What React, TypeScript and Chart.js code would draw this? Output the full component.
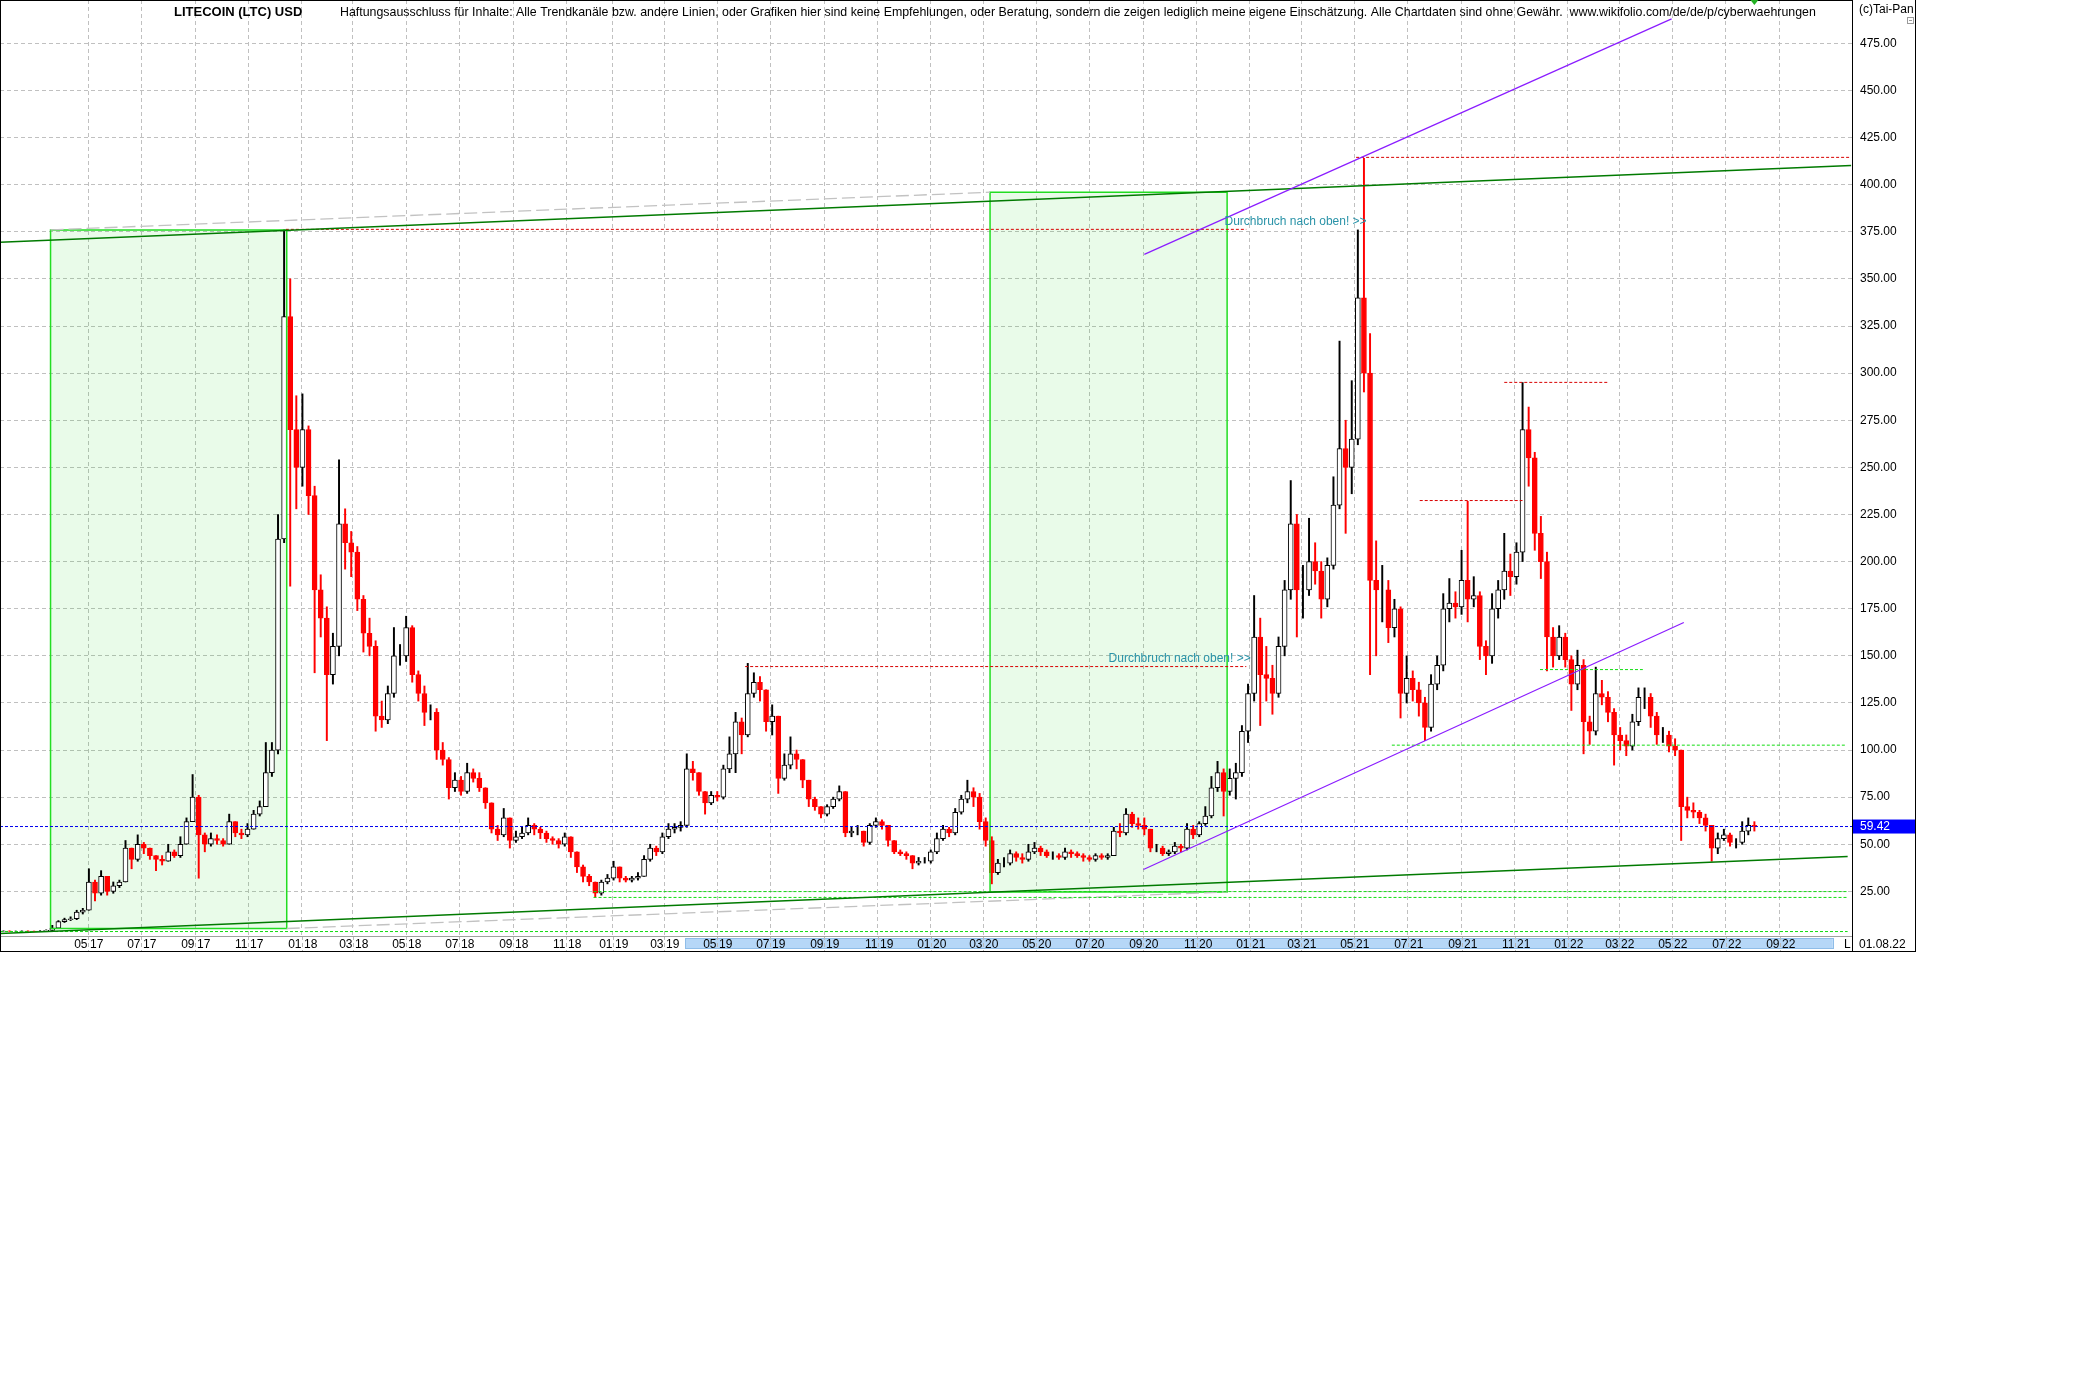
import React, { useEffect, useRef } from 'react';
import { Chart, registerables } from 'chart.js';

Chart.register(...registerables);

// ---------- texts ----------
const TITLE = 'LITECOIN (LTC) USD';
const DISCLAIMER =
  'Haftungsausschluss für Inhalte: Alle Trendkanäle bzw. andere Linien, oder Grafiken hier sind keine Empfehlungen, oder Beratung, sondern die zeigen lediglich meine eigene Einschätzung. Alle Chartdaten sind ohne Gewähr.  www.wikifolio.com/de/de/p/cyberwaehrungen';
const COPYRIGHT = '(c)Tai-Pan';
const LAST_DATE_LABEL = '01.08.22';
const SCROLL_LABEL = 'L';
const BREAKOUT_TEXT = 'Durchbruch nach oben! >>';
const LAST_PRICE = 59.42;

// ---------- x axis (bar axis: calendar days, data feed gap removed) ----------
const AXIS_START = '2017-01-20';
const AXIS_END = '2022-11-23';
const FEED_GAP_START = '2018-12-08';
const FEED_GAP_DAYS = 8;
const xTickMonths = [
  '2017-05', '2017-07', '2017-09', '2017-11', '2018-01', '2018-03', '2018-05', '2018-07', '2018-09', '2018-11',
  '2019-01', '2019-03', '2019-05', '2019-07', '2019-09', '2019-11', '2020-01', '2020-03', '2020-05', '2020-07',
  '2020-09', '2020-11', '2021-01', '2021-03', '2021-05', '2021-07', '2021-09', '2021-11', '2022-01', '2022-03',
  '2022-05', '2022-07', '2022-09',
];
const yTicks = [25, 50, 75, 100, 125, 150, 175, 200, 225, 250, 275, 300, 325, 350, 375, 400, 425, 450, 475];
const Y_MIN = 1.33;
const Y_MAX = 498;

// ---------- weekly candles (one candle = 7 bars) ----------
const FIRST_CANDLE_BAR = 16;
const BARS_PER_CANDLE = 7;
const candleCloses = [
  3.9, 4.0, 3.9, 3.9, 4.0, 3.9, 3.8, 4.0, 4.3, 5.5,
  9.0, 10.0, 10.5, 14, 15, 30, 24, 33, 25, 28,
  30, 48, 42, 50, 48, 44, 42, 41, 46, 44,
  50, 62, 75, 55, 50, 53, 52, 50, 62, 56,
  55, 58, 66, 70, 88, 100, 212, 330, 270, 250,
  270, 235, 185, 170, 140, 155, 220, 210, 205, 180,
  162, 155, 118, 116, 130, 150, 150, 165, 140, 130,
  120, 120, 100, 95, 80, 84, 78, 88, 85, 80,
  72, 58, 55, 64, 52, 54, 56, 60, 58, 56,
  53, 52, 50, 54, 46, 38, 33, 30, 24, 30,
  32, 38, 32, 31, 32, 33, 42, 48, 46, 54,
  58, 59, 60, 90, 88, 78, 72, 76, 75, 90,
  98, 115, 108, 130, 136, 132, 115, 118, 85, 92,
  98, 95, 84, 74, 70, 66, 70, 74, 78, 56,
  57, 57, 51, 60, 62, 60, 52, 46, 45, 44,
  40, 41, 41, 46, 53, 58, 56, 67, 74, 78,
  75, 62, 52, 35, 40, 40, 45, 43, 42, 46,
  48, 46, 44, 44, 43, 46, 45, 44, 43, 42,
  44, 43, 44, 57, 56, 66, 61, 60, 58, 48,
  48, 45, 46, 49, 48, 58, 55, 61, 65, 80,
  88, 78, 85, 88, 110, 130, 160, 140, 138, 130,
  155, 185, 220, 185, 185, 200, 195, 180, 198, 230,
  260, 250, 265, 340, 300, 190, 185, 185, 165, 175,
  130, 138, 132, 125, 112, 135, 145, 175, 178, 176,
  190, 180, 182, 155, 150, 175, 185, 195, 192, 205,
  270, 255, 215, 200, 160, 150, 160, 148, 135, 145,
  115, 110, 130, 128, 120, 108, 105, 102, 115, 128,
  128, 118, 108, 108, 102, 100, 70, 68, 67, 64,
  60, 48, 53, 55, 51, 51, 57, 60, 59.42,
];
const candleHighs = [
  4.1, 4.1, 4.1, 4.0, 4.1, 4.1, 4.0, 4.2, 4.6, 7.0,
  9.5, 10.8, 11.5, 15, 16, 37, 31, 36, 33, 30,
  31, 52, 48, 55, 51, 48, 44, 44, 50, 47,
  54, 64, 87, 76, 56, 56, 55, 53, 66, 62,
  58, 61, 68, 73, 104, 104, 225, 376, 350, 288,
  289, 272, 240, 193, 176, 162, 254, 228, 216, 208,
  182, 170, 158, 126, 134, 165, 156, 171, 166, 142,
  134, 124, 122, 104, 96, 88, 86, 93, 90, 88,
  80, 72, 60, 69, 64, 57, 59, 64, 61, 59,
  57, 54, 53, 56, 54, 46, 39, 34, 30, 31,
  34, 41, 38, 33, 33, 35, 44, 50, 49, 56,
  61, 61, 62, 98, 94, 88, 78, 78, 78, 92,
  107, 120, 117, 146, 141, 139, 132, 124, 118, 98,
  107, 100, 95, 84, 75, 70, 71, 75, 81, 78,
  59, 60, 57, 61, 64, 63, 60, 52, 47, 46,
  44, 43, 43, 47, 56, 60, 59, 69, 76, 84,
  80, 77, 64, 54, 42, 43, 47, 46, 45, 50,
  51, 49, 47, 46, 45, 48, 47, 46, 45, 44,
  45, 45, 45, 59, 61, 69, 67, 64, 64, 58,
  50, 49, 47, 51, 50, 61, 60, 62, 70, 86,
  94, 90, 90, 93, 113, 135, 182, 170, 155, 145,
  160, 190, 243, 225, 198, 223, 210, 200, 202, 245,
  317, 275, 296, 376, 414, 321, 211, 198, 190, 180,
  176, 150, 142, 136, 128, 140, 150, 183, 191, 184,
  206, 232, 192, 184, 158, 183, 190, 215, 204, 210,
  295, 282, 258, 224, 205, 165, 166, 162, 150, 153,
  148, 118, 144, 137, 131, 122, 112, 108, 119, 133,
  133, 130, 120, 112, 110, 106, 100, 75, 72, 68,
  66, 60, 56, 58, 56, 53, 62, 64, 62,
];
const candleLows = [
  3.7, 3.8, 3.8, 3.7, 3.8, 3.8, 3.7, 3.8, 3.9, 4.2,
  5.5, 8.5, 9.5, 10, 13, 15, 20, 23, 23, 24,
  27, 30, 37, 41, 45, 42, 36, 39, 41, 43,
  43, 50, 62, 32, 46, 49, 50, 49, 50, 54,
  53, 54, 58, 65, 70, 86, 98, 210, 187, 228,
  240, 225, 141, 160, 105, 135, 150, 196, 192, 174,
  152, 150, 110, 112, 114, 128, 145, 147, 136, 126,
  113, 116, 95, 92, 74, 78, 76, 77, 83, 78,
  69, 56, 52, 54, 48, 51, 53, 55, 55, 53,
  51, 50, 48, 49, 43, 35, 30, 28, 22, 23,
  29, 31, 30, 30, 30, 31, 33, 41, 44, 45,
  53, 56, 57, 59, 84, 76, 66, 71, 73, 74,
  88, 88, 98, 107, 128, 126, 110, 108, 77, 84,
  90, 90, 80, 70, 68, 64, 65, 69, 73, 54,
  54, 55, 49, 50, 59, 58, 49, 45, 44, 42,
  37, 39, 40, 40, 45, 52, 54, 55, 66, 72,
  70, 58, 49, 29, 34, 38, 39, 41, 40, 41,
  45, 44, 43, 42, 42, 42, 43, 43, 41, 41,
  41, 42, 42, 44, 54, 55, 59, 58, 55, 46,
  46, 44, 44, 45, 46, 47, 53, 54, 60, 64,
  78, 65, 76, 74, 86, 104, 126, 113, 126, 119,
  128, 150, 180, 160, 170, 182, 188, 170, 176, 196,
  228, 215, 236, 262, 290, 140, 150, 168, 157, 160,
  117, 125, 126, 118, 105, 110, 132, 142, 168, 170,
  172, 168, 176, 148, 140, 146, 170, 180, 182, 188,
  200, 240, 206, 191, 142, 144, 148, 144, 121, 132,
  98, 103, 108, 124, 115, 92, 100, 97, 100, 113,
  122, 112, 103, 104, 99, 97, 52, 64, 64, 61,
  57, 41, 45, 52, 49, 48, 50, 55, 57,
];

// ---------- drawings (date / price coordinates) ----------
const rectBoxes = [
  { from: '2017-03-19', to: '2017-12-15', low: 5.3, high: 376 },
  { from: '2020-03-09', to: '2020-12-06', low: 24.7, high: 396 },
];
const channelLines = [
  { from: '2017-01-20', v1: 369.4, to: '2022-11-22', v2: 410.2 },
  { from: '2017-01-20', v1: 2.6, to: '2022-11-18', v2: 43.5 },
];
const grayDashedLines = [
  { from: '2017-03-19', v1: 376, to: '2020-03-09', v2: 396 },
  { from: '2017-12-15', v1: 5.3, to: '2020-12-06', v2: 24.7 },
];
const purpleLines = [
  { from: '2020-09-02', v1: 363, to: '2022-04-30', v2: 488 },
  { from: '2020-09-01', v1: 36.6, to: '2022-05-14', v2: 167.7 },
];
const redLevels = [
  { from: '2017-12-14', to: '2020-12-28', v: 376.3 },
  { from: '2019-06-02', to: '2020-12-28', v: 144.3 },
  { from: '2021-05-03', to: '2022-11-22', v: 414.5 },
  { from: '2021-07-15', to: '2021-11-10', v: 232.4 },
  { from: '2021-10-20', to: '2022-02-17', v: 295.1 },
];
const greenLevels = [
  { from: '2021-06-13', to: '2022-11-15', v: 102.6 },
  { from: '2021-11-30', to: '2022-03-28', v: 142.7 },
  { from: '2018-12-02', to: '2022-11-18', v: 24.9 },
  { from: '2018-12-02', to: '2022-11-18', v: 21.8 },
  { from: '2017-01-20', to: '2022-11-18', v: 3.7 },
];
const lastPriceLine = { from: '2017-01-20', to: '2022-11-23', v: LAST_PRICE };
const breakoutNotes = [
  { date: '2020-12-03', v: 380.4 },
  { date: '2020-07-23', v: 148.5 },
];
const scrollRange = { from: '2019-03-25', to: '2022-11-01' };

// ---------- helpers ----------
const W = 1916;
const H = 952;
const FONT = "'Liberation Sans', Arial, sans-serif";
const DAY0 = Date.UTC(2017, 0, 1);
function calDay(s: string): number {
  const p = s.split('-').map(Number);
  return Math.round((Date.UTC(p[0], p[1] - 1, p[2] || 1) - DAY0) / 86400000);
}
const GAP0 = calDay(FEED_GAP_START);
function bar(s: string): number {
  const d = calDay(s);
  if (d < GAP0) return d;
  if (d < GAP0 + FEED_GAP_DAYS) return GAP0;
  return d - FEED_GAP_DAYS;
}
const xTickBars = xTickMonths.map((m) => bar(m + '-01'));

function lineDs(data: { x: number; y: number }[], color: string, width: number, dash: number[], order: number): any {
  return {
    type: 'line',
    data,
    borderColor: color,
    backgroundColor: color,
    borderWidth: width,
    borderDash: dash,
    pointRadius: 0,
    pointHoverRadius: 0,
    fill: false,
    tension: 0,
    order,
  };
}

function buildDatasets(): any[] {
  const ds: any[] = [];
  rectBoxes.forEach((r) => {
    ds.push({
      type: 'line',
      data: [{ x: bar(r.from), y: r.high }, { x: bar(r.to), y: r.high }],
      borderWidth: 0,
      pointRadius: 0,
      fill: { value: r.low },
      backgroundColor: 'rgba(0,210,0,0.085)',
      order: 40,
    });
  });
  const opens = candleCloses.map((c, i) => (i === 0 ? c : candleCloses[i - 1]));
  const up = candleCloses.map((c, i) => c >= opens[i]);
  const xs = candleCloses.map((_, i) => FIRST_CANDLE_BAR + BARS_PER_CANDLE * i);
  ds.push({
    type: 'bar',
    data: xs.map((x, i) => ({ x, y: [candleLows[i], candleHighs[i]] })),
    backgroundColor: up.map((u) => (u ? '#000000' : '#ff0000')),
    borderWidth: 0,
    barThickness: 1.3,
    grouped: false,
    order: 30,
  });
  ds.push({
    type: 'bar',
    data: xs.map((x, i) => ({ x, y: [opens[i], candleCloses[i]] })),
    backgroundColor: up.map((u) => (u ? '#ffffff' : '#ff0000')),
    borderColor: up.map((u) => (u ? '#000000' : '#ff0000')),
    borderWidth: 1,
    borderSkipped: false,
    barThickness: 5,
    grouped: false,
    order: 29,
  });
  rectBoxes.forEach((r) => {
    const a = bar(r.from), b = bar(r.to);
    ds.push(lineDs([
      { x: a, y: r.low }, { x: a, y: r.high }, { x: b, y: r.high }, { x: b, y: r.low }, { x: a, y: r.low },
    ], '#22dd22', 1.5, [], 20));
  });
  grayDashedLines.forEach((l) => ds.push(lineDs([{ x: bar(l.from), y: l.v1 }, { x: bar(l.to), y: l.v2 }], '#c2c2c2', 1.3, [13, 5], 19)));
  greenLevels.forEach((l) => ds.push(lineDs([{ x: bar(l.from), y: l.v }, { x: bar(l.to), y: l.v }], '#11dd11', 1, [3, 2], 18)));
  redLevels.forEach((l) => ds.push(lineDs([{ x: bar(l.from), y: l.v }, { x: bar(l.to), y: l.v }], '#d80000', 1, [3, 2], 17)));
  ds.push(lineDs([{ x: bar(lastPriceLine.from), y: lastPriceLine.v }, { x: bar(lastPriceLine.to), y: lastPriceLine.v }], '#0000ee', 1, [3, 2], 16));
  channelLines.forEach((l) => ds.push(lineDs([{ x: bar(l.from), y: l.v1 }, { x: bar(l.to), y: l.v2 }], '#007a00', 1.5, [], 15)));
  purpleLines.forEach((l) => ds.push(lineDs([{ x: bar(l.from), y: l.v1 }, { x: bar(l.to), y: l.v2 }], '#8a1cff', 1.2, [], 14)));
  return ds;
}

const decorPlugin = {
  id: 'decor',
  beforeDraw(chart: any) {
    const ctx = chart.ctx;
    ctx.save();
    ctx.fillStyle = '#ffffff';
    ctx.fillRect(0, 0, chart.width, chart.height);
    ctx.restore();
  },
  afterDraw(chart: any) {
    const { ctx, chartArea } = chart;
    const xs = chart.scales.x;
    const ys = chart.scales.y;
    const right = chartArea.right;
    const bottom = chartArea.bottom;
    ctx.save();

    // x band: scroll highlight
    const sx1 = xs.getPixelForValue(bar(scrollRange.from));
    const sx2 = xs.getPixelForValue(bar(scrollRange.to));
    ctx.fillStyle = '#b6d7f7';
    ctx.fillRect(sx1, bottom + 2, sx2 - sx1, 11);
    ctx.strokeStyle = '#8fbde8';
    ctx.lineWidth = 1;
    ctx.strokeRect(Math.round(sx1) + 0.5, bottom + 2.5, Math.round(sx2 - sx1), 10);

    // grid extension + labels
    ctx.font = `12px ${FONT}`;
    ctx.textBaseline = 'middle';
    ctx.fillStyle = '#000';
    xTickMonths.forEach((m, i) => {
      const px = Math.round(xs.getPixelForValue(xTickBars[i])) + 0.5;
      ctx.strokeStyle = '#b8b8b8';
      ctx.setLineDash([4, 3]);
      ctx.beginPath();
      ctx.moveTo(px, bottom);
      ctx.lineTo(px, H);
      ctx.stroke();
      ctx.setLineDash([]);
      ctx.textAlign = 'right';
      ctx.fillText(m.slice(5, 7), px - 1, bottom + 8.5);
      ctx.textAlign = 'left';
      ctx.fillText(m.slice(2, 4), px + 1.5, bottom + 8.5);
    });
    ctx.textAlign = 'left';
    ctx.fillText(SCROLL_LABEL, right - 8, bottom + 8.5);
    ctx.fillText(LAST_DATE_LABEL, right + 7, bottom + 8.5);

    // frame
    ctx.strokeStyle = '#a0a0a0';
    ctx.beginPath();
    ctx.moveTo(0, bottom + 0.5);
    ctx.lineTo(right, bottom + 0.5);
    ctx.stroke();
    ctx.strokeStyle = '#000';
    ctx.beginPath();
    ctx.moveTo(0.5, 0); ctx.lineTo(0.5, H);
    ctx.moveTo(0, 0.5); ctx.lineTo(right, 0.5);
    ctx.moveTo(right + 0.5, 0); ctx.lineTo(right + 0.5, H);
    ctx.moveTo(W - 0.5, 0); ctx.lineTo(W - 0.5, H);
    ctx.moveTo(0, H - 0.5); ctx.lineTo(W, H - 0.5);
    ctx.stroke();

    // last price box
    const py = ys.getPixelForValue(LAST_PRICE);
    ctx.fillStyle = '#0000ff';
    ctx.fillRect(right + 1, py - 7, W - right - 2, 14);
    ctx.fillStyle = '#ffffff';
    ctx.font = `12px ${FONT}`;
    ctx.textAlign = 'left';
    ctx.fillText(LAST_PRICE.toFixed(2), right + 8, py + 0.5);

    // last candle marker
    const lastBar = FIRST_CANDLE_BAR + BARS_PER_CANDLE * (candleCloses.length - 1);
    const mx = xs.getPixelForValue(lastBar);
    ctx.fillStyle = '#22b022';
    ctx.beginPath();
    ctx.moveTo(mx - 4, 0);
    ctx.lineTo(mx + 4, 0);
    ctx.lineTo(mx, 5);
    ctx.closePath();
    ctx.fill();

    // breakout notes
    ctx.fillStyle = '#2a93a8';
    ctx.font = `12px ${FONT}`;
    breakoutNotes.forEach((n) => {
      ctx.fillText(BREAKOUT_TEXT, xs.getPixelForValue(bar(n.date)), ys.getPixelForValue(n.v));
    });

    // header texts
    ctx.fillStyle = '#000';
    ctx.font = `bold 13px ${FONT}`;
    ctx.fillText(TITLE, 174, 12.5);
    ctx.font = `12px ${FONT}`;
    const wMeasured = ctx.measureText(DISCLAIMER).width;
    const fs = Math.max(10, Math.min(14, (12 * 1476) / wMeasured));
    ctx.font = `${fs.toFixed(2)}px ${FONT}`;
    ctx.fillText(DISCLAIMER, 340, 12.5);
    ctx.font = `12px ${FONT}`;
    ctx.fillText(COPYRIGHT, right + 7, 10);

    // small collapse box
    ctx.strokeStyle = '#9a9a9a';
    ctx.strokeRect(W - 8.5, 17.5, 6, 6);
    ctx.beginPath();
    ctx.moveTo(W - 7, 20.5);
    ctx.lineTo(W - 4, 20.5);
    ctx.stroke();

    ctx.restore();
  },
};

export default function App() {
  const ref = useRef<HTMLCanvasElement>(null);
  useEffect(() => {
    if (!ref.current) return;
    Chart.defaults.font.family = FONT;
    Chart.defaults.font.size = 12;
    const chart = new Chart(ref.current, {
      type: 'bar',
      data: { datasets: buildDatasets() },
      options: {
        responsive: false,
        maintainAspectRatio: false,
        devicePixelRatio: 1,
        animation: false,
        events: [],
        layout: { padding: 0 },
        plugins: { legend: { display: false }, tooltip: { enabled: false }, title: { display: false } },
        scales: {
          x: {
            type: 'linear',
            min: bar(AXIS_START),
            max: bar(AXIS_END),
            offset: false,
            grid: { display: true, color: '#c0c0c0', drawTicks: false, offset: false },
            border: { display: false, dash: [4, 3] },
            ticks: { display: false },
            afterBuildTicks: (s: any) => {
              s.ticks = xTickBars.map((v) => ({ value: v }));
            },
            afterFit: (s: any) => {
              s.height = 16;
              s.paddingLeft = 0;
              s.paddingRight = 0;
            },
          },
          y: {
            type: 'linear',
            position: 'right',
            min: Y_MIN,
            max: Y_MAX,
            grid: { display: true, color: '#c0c0c0', drawTicks: false },
            border: { display: false, dash: [4, 3] },
            ticks: {
              color: '#000',
              padding: 8,
              autoSkip: false,
              font: { size: 12, family: FONT },
              callback: (v: any) => Number(v).toFixed(2),
            },
            afterBuildTicks: (s: any) => {
              s.ticks = yTicks.map((v) => ({ value: v }));
            },
            afterFit: (s: any) => {
              s.width = 64;
              s.paddingTop = 0;
              s.paddingBottom = 0;
            },
          },
        },
      } as any,
      plugins: [decorPlugin],
    });
    return () => chart.destroy();
  }, []);
  return (
    <div style={{ position: 'absolute', left: 0, top: 0, width: 2100, height: 1394, background: '#ffffff' }}>
      <canvas ref={ref} width={W} height={H} style={{ width: W, height: H, display: 'block' }} />
    </div>
  );
}
